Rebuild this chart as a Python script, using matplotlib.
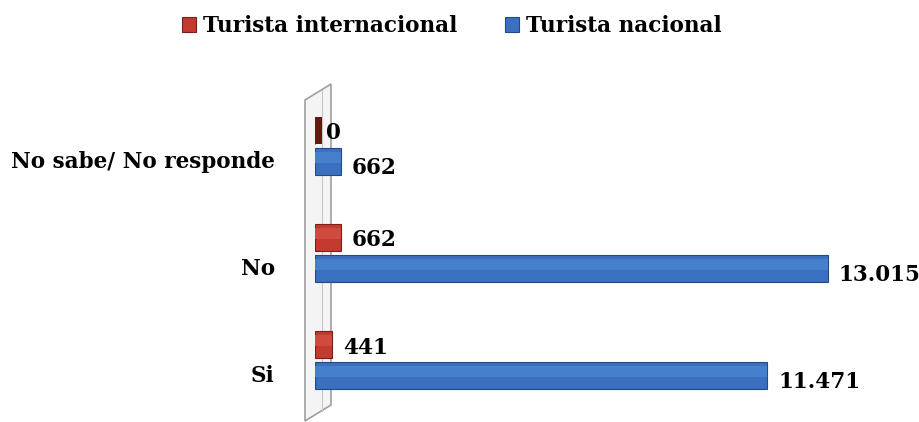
import matplotlib
matplotlib.use("Agg")
from matplotlib import pyplot as plt
from matplotlib.patches import Polygon
import numpy as np

# Datos
categorias = ["Si", "No", "No sabe/ No responde"]
internacional = [441, 662, 0]
nacional = [11471, 13015, 662]
etiquetas_int = ["441", "662", "0"]
etiquetas_nac = ["11.471", "13.015", "662"]
series = ["Turista internacional", "Turista nacional"]

rojo = "#c23a30"
azul = "#3b70c0"
fuente = "DejaVu Serif"
tam = 15.5

W, H = 920, 422
fig = plt.figure(figsize=(W / 100, H / 100), dpi=100)

# Ejes: izquierda en x=315 px, arriba en y=60 px
ax = fig.add_axes([315 / W, 0, 1 - 315 / W - 14 / W, (H - 60) / H])
ax.set_xlim(0, 15000)
ax.set_ylim(-0.58, 2.8)

# Pared lateral (efecto 3D)
pared = Polygon([(305 / W, 1 - 100 / H), (331 / W, 1 - 84 / H),
                 (331 / W, 1 - 405 / H), (305 / W, 1 - 421 / H)],
                closed=True, transform=fig.transFigure, facecolor="#f4f4f4",
                edgecolor="#a0a0a0", linewidth=1.2, zorder=-2)
fig.patches.append(pared)
fig.lines.append(plt.Line2D([322 / W, 322 / W], [1 - 90 / H, 1 - 411 / H],
                            transform=fig.transFigure, color="#c8c8c8",
                            linewidth=0.8, zorder=-1))

y = np.arange(len(categorias))
alto = 0.25
off = 0.145

b_int = ax.barh(y + off, internacional, height=alto, color=rojo,
                edgecolor="#7a1f1a", linewidth=0.8, zorder=3)
b_nac = ax.barh(y - off, nacional, height=alto, color=azul,
                edgecolor="#234a85", linewidth=0.8, zorder=3)
# brillo superior (efecto 3D)
ax.barh(y + off + alto * 0.15, internacional, height=alto * 0.4,
        color="#cf4a3f", linewidth=0, zorder=4)
ax.barh(y - off + alto * 0.15, nacional, height=alto * 0.4,
        color="#4680cc", linewidth=0, zorder=4)

# Barra de valor 0: pequeño bloque oscuro visible
for i, v in enumerate(internacional):
    if v == 0:
        ax.barh(y[i] + off, 180, height=alto, color="#6b1510", zorder=3)

# Etiquetas de datos
for i in range(len(categorias)):
    ax.text(internacional[i] + 280, y[i] + off - 0.03, etiquetas_int[i],
            fontsize=tam, fontweight="bold", family=fuente, va="center",
            ha="left", zorder=5)
    ax.text(nacional[i] + 280, y[i] - off - 0.06, etiquetas_nac[i],
            fontsize=tam, fontweight="bold", family=fuente, va="center",
            ha="left", zorder=5)

ax.set_yticks(y - 0.13)
ax.set_yticklabels(categorias, fontsize=tam, fontweight="bold", family=fuente)
ax.tick_params(axis="y", length=0, pad=29)
ax.set_xticks([])
for s in ax.spines.values():
    s.set_visible(False)
ax.patch.set_alpha(0)

# Leyenda
leg = fig.legend([b_int, b_nac], series, loc="upper center",
                 bbox_to_anchor=(0.491, 1.01), ncol=2, frameon=False,
                 prop={"family": fuente, "weight": "bold", "size": tam},
                 handlelength=0.65, handleheight=0.65, handletextpad=0.35,
                 columnspacing=2.2)

plt.savefig("out.png", dpi=100)
